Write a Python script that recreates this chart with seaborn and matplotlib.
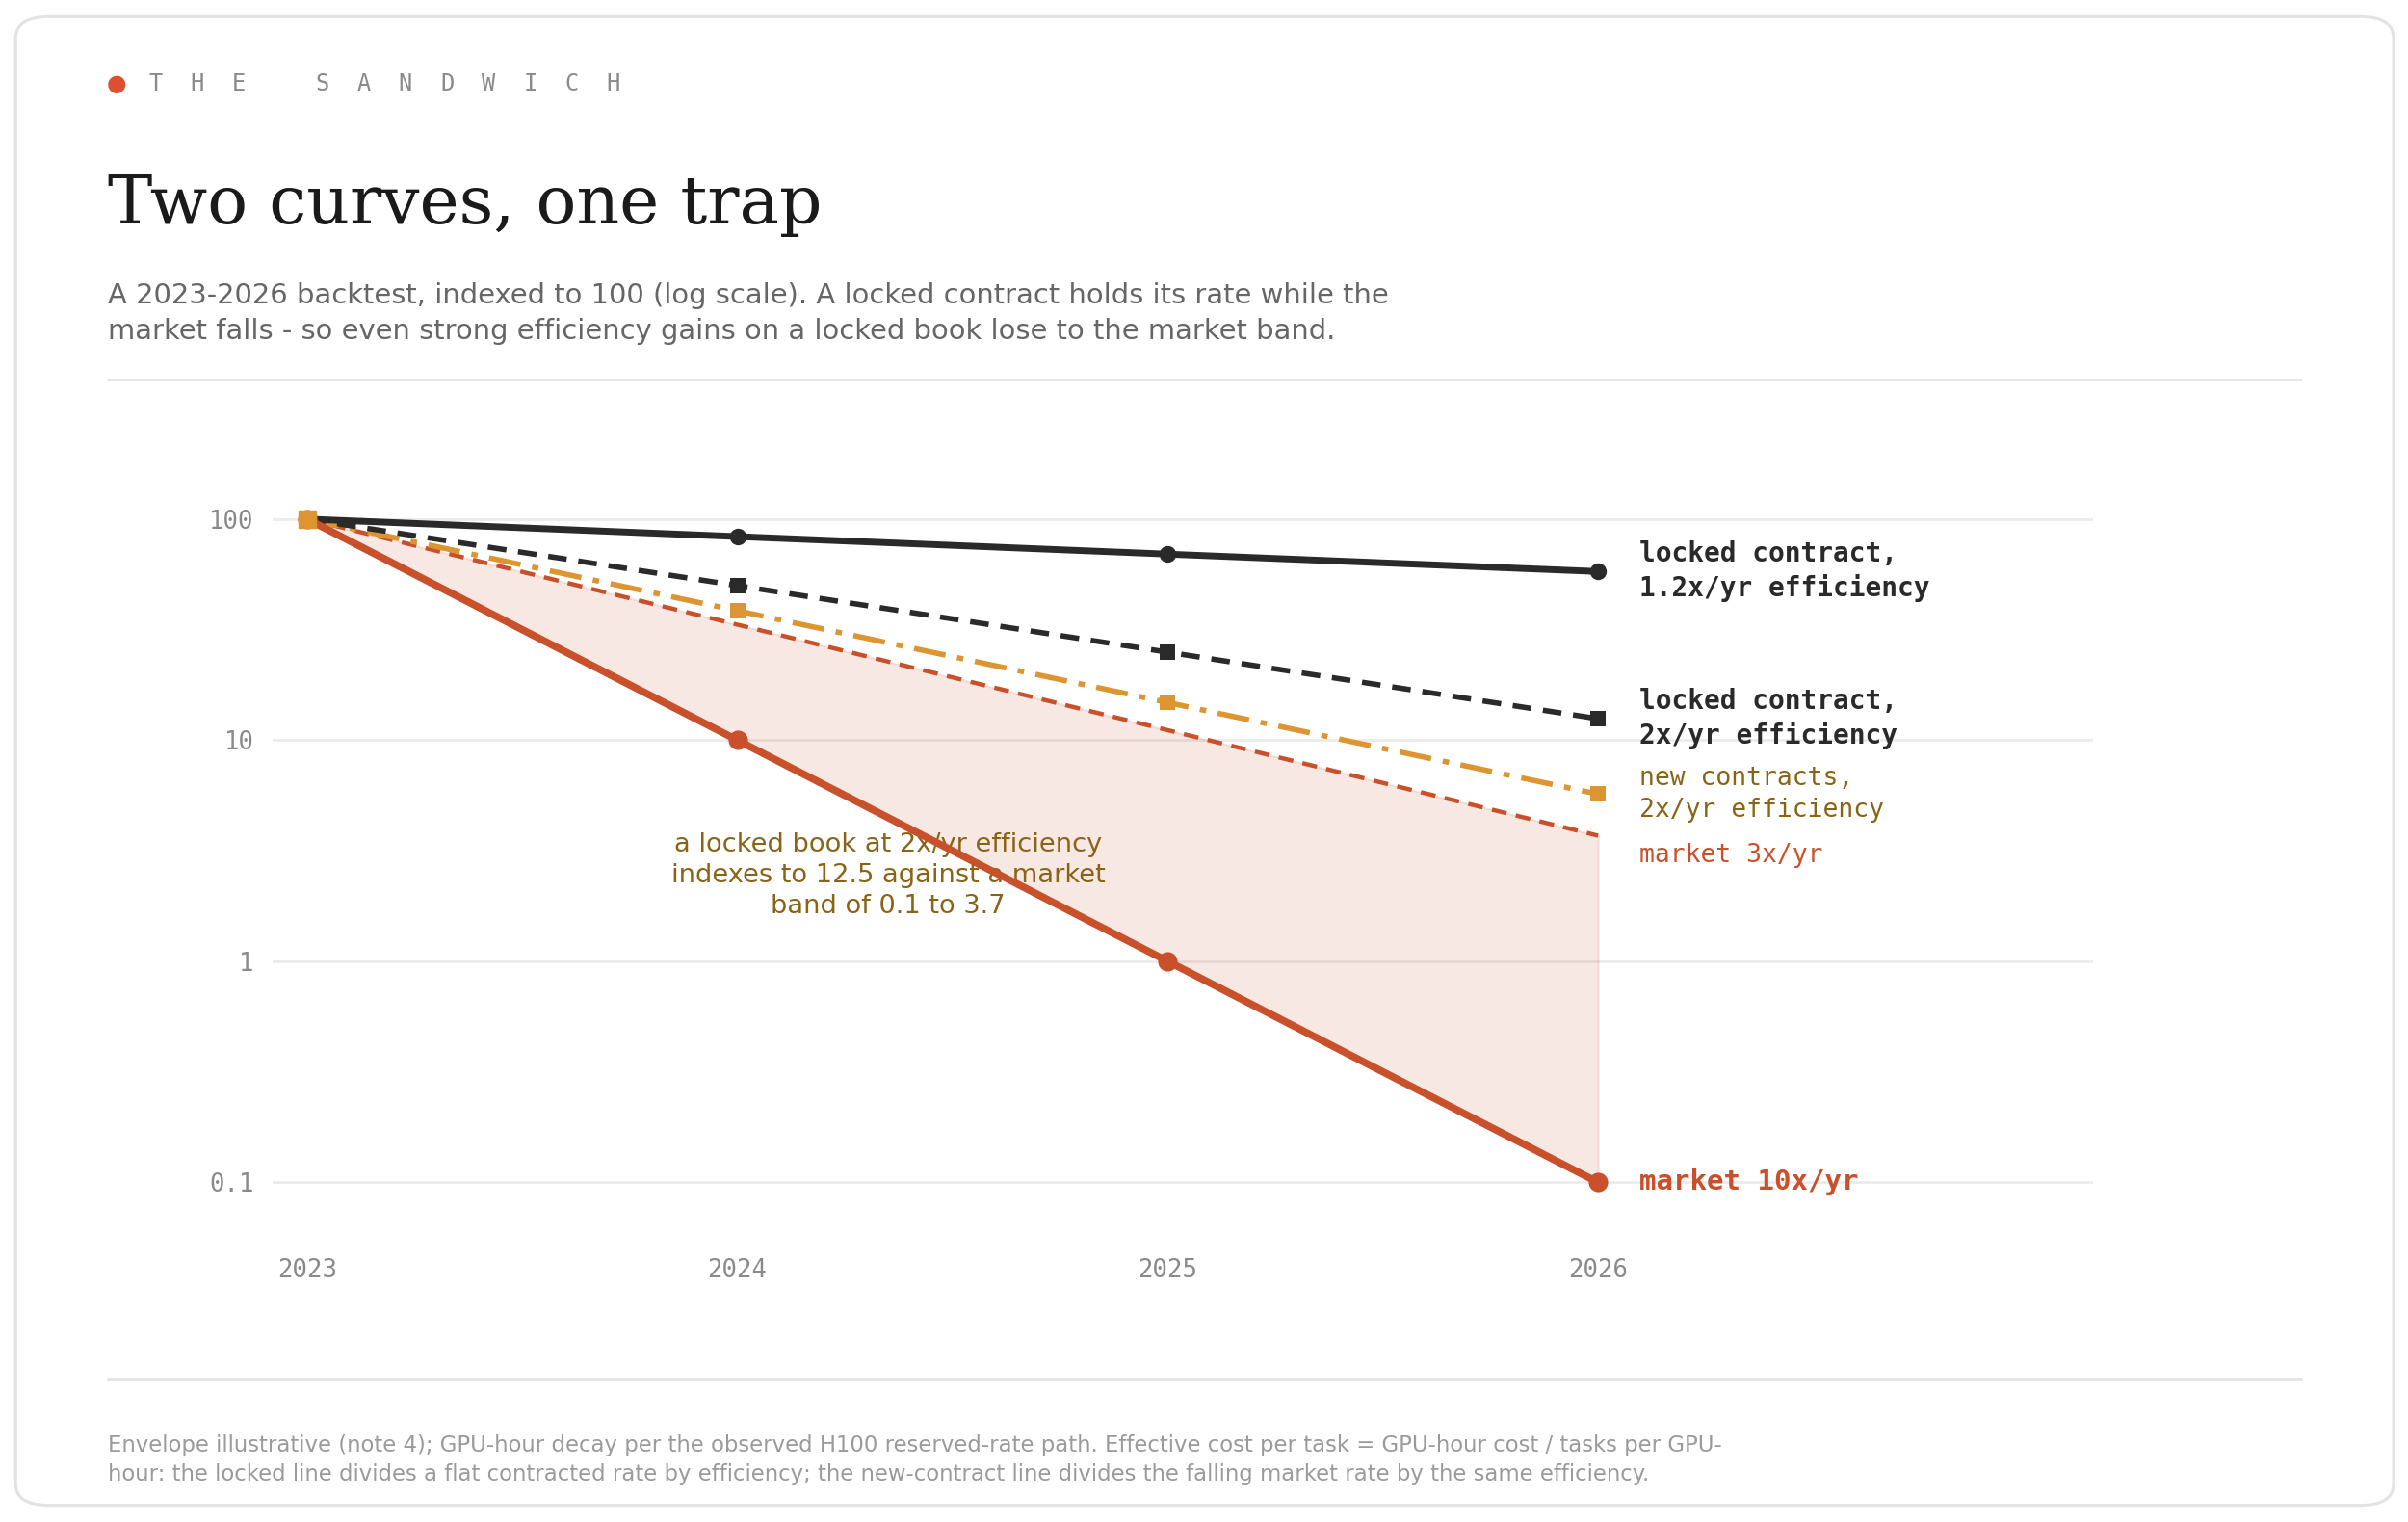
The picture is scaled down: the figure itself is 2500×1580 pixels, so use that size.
import numpy as np
import pandas as pd
import matplotlib.pyplot as plt
import seaborn as sns
from matplotlib.patches import FancyBboxPatch

# data: effective cost per task, indexed to 100 (log scale)
years = [2023, 2024, 2025, 2026]
market_10x = [100, 10, 1, 0.1]
market_3x = [100, 33.3, 11.1, 3.7]
locked_12x = [100, 83.3, 69.4, 57.9]
locked_2x = [100, 50, 25, 12.5]
new_2x = [100, 38.5, 14.8, 5.7]

yticks = [0.1, 1, 10, 100]
ytick_labels = ['0.1', '1', '10', '100']

RED = '#c8502a'
INK = '#2a2a2a'
GOLD = '#dc9530'
OLIVE = '#8a6416'
GREY = '#8a8a8a'

sns.set_theme(style='white')
plt.rcParams['font.family'] = ['DejaVu Sans']

fig = plt.figure(figsize=(25, 15.8), dpi=100)

# card background
card = FancyBboxPatch((0.0065, 0.011), 0.9875, 0.978,
                      boxstyle='round,pad=0,rounding_size=0.014',
                      transform=fig.transFigure, facecolor='white',
                      edgecolor='#e3e3e3', linewidth=2.2, zorder=-10)
fig.patches.append(card)

# kicker
fig.text(0.0485, 0.945, '\u25CF', color='#dc5030', fontsize=17, va='center', ha='center')
for i, ch in enumerate('THE SANDWICH'):
    if ch == ' ':
        continue
    fig.text(0.0618 + i * 0.01728, 0.945, ch, family='DejaVu Sans Mono',
             color=GREY, fontsize=17, va='center', ha='left')

fig.text(0.0448, 0.865, 'Two curves, one trap', family='DejaVu Serif',
         fontsize=50, color='#1a1a1a', va='center', ha='left')
fig.text(0.0448, 0.794,
         'A 2023-2026 backtest, indexed to 100 (log scale). A locked contract holds its rate while the\n'
         'market falls - so even strong efficiency gains on a locked book lose to the market band.',
         fontsize=20.9, color='#666666', va='center', ha='left', linespacing=1.42)

fig.add_artist(plt.Line2D([0.0448, 0.9555], [0.7505, 0.7505], color='#e6e6e6', lw=2.2))
fig.add_artist(plt.Line2D([0.0448, 0.9555], [0.0935, 0.0935], color='#e6e6e6', lw=2.2))

fig.text(0.0448, 0.041,
         'Envelope illustrative (note 4); GPU-hour decay per the observed H100 reserved-rate path. Effective cost per task = GPU-hour cost / tasks per GPU-\n'
         'hour: the locked line divides a flat contracted rate by efficiency; the new-contract line divides the falling market rate by the same efficiency.',
         fontsize=16.4, color='#9a9a9a', va='center', ha='left', linespacing=1.38)

# chart
ax = fig.add_axes([0.1132, 0.1794, 0.756, 0.5233])
ax.set_facecolor('none')
df = pd.DataFrame({'year': years, 'market_10x': market_10x, 'market_3x': market_3x,
                   'locked_12x': locked_12x, 'locked_2x': locked_2x, 'new_2x': new_2x})

ax.fill_between(df['year'], df['market_10x'], df['market_3x'], color=RED, alpha=0.13,
                linewidth=1.5, edgecolor=RED, zorder=1)

sns.lineplot(data=df, x='year', y='market_3x', ax=ax, color=RED, lw=3.2,
             linestyle=(0, (3.5, 2.2)), zorder=3)
sns.lineplot(data=df, x='year', y='new_2x', ax=ax, color=GOLD, lw=4,
             linestyle=(0, (6, 2.2, 1.2, 2.2)), marker='s', markersize=12,
             markeredgewidth=0, zorder=4)
sns.lineplot(data=df, x='year', y='locked_2x', ax=ax, color=INK, lw=4,
             linestyle=(0, (3.5, 2.2)), marker='s', markersize=12,
             markeredgewidth=0, zorder=4)
sns.lineplot(data=df, x='year', y='locked_12x', ax=ax, color=INK, lw=5,
             marker='o', markersize=12.5, markeredgewidth=0, zorder=5)
sns.lineplot(data=df, x='year', y='market_10x', ax=ax, color=RED, lw=5.5,
             marker='o', markersize=14.5, markeredgewidth=0, zorder=5)
# orange start marker sits on top
ax.plot(years[:1], new_2x[:1], marker='s', color=GOLD, markersize=12.5, zorder=6)

ax.set_yscale('log')
ax.set_ylim(0.05, 200)
ax.set_xlim(2022.92, 2027.15)
ax.set_yticks(yticks)
ax.set_yticklabels(ytick_labels)
ax.set_xticks(years)
ax.set_xticklabels([str(y) for y in years])
ax.minorticks_off()
ax.set_xlabel('')
ax.set_ylabel('')
for s in ax.spines.values():
    s.set_visible(False)
ax.grid(axis='y', color='#ebebeb', lw=2)
ax.grid(axis='x', visible=False)
ax.tick_params(axis='both', length=0, labelsize=18.5, labelcolor=GREY)
ax.tick_params(axis='y', pad=14)
ax.tick_params(axis='x', pad=6.5)
for lab in ax.get_xticklabels() + ax.get_yticklabels():
    lab.set_family('DejaVu Sans Mono')

# end labels
end = years[-1]
labels = [
    (locked_12x[-1], 'locked contract,\n1.2x/yr efficiency', INK, 'bold', 20, 0),
    (locked_2x[-1], 'locked contract,\n2x/yr efficiency', INK, 'bold', 20, 0),
    (new_2x[-1], 'new contracts,\n2x/yr efficiency', OLIVE, 'normal', 19, 0),
    (market_3x[-1], 'market 3x/yr', RED, 'normal', 19, -14.5),
    (market_10x[-1], 'market 10x/yr', RED, 'bold', 21, 0),
]
for yv, txt, col, wt, fs, dy in labels:
    ax.annotate(txt, xy=(end, yv), xytext=(30.5, dy), textcoords='offset points',
                family='DejaVu Sans Mono', color=col, fontweight=wt, fontsize=fs,
                va='center', ha='left', linespacing=1.32, annotation_clip=False)

ax.text(2024.35, 2.45, 'a locked book at 2x/yr efficiency\nindexes to 12.5 against a market\nband of 0.1 to 3.7',
        color=OLIVE, fontsize=19.6, ha='center', va='center', linespacing=1.3, zorder=2)

fig.savefig('out.png', dpi=100)
